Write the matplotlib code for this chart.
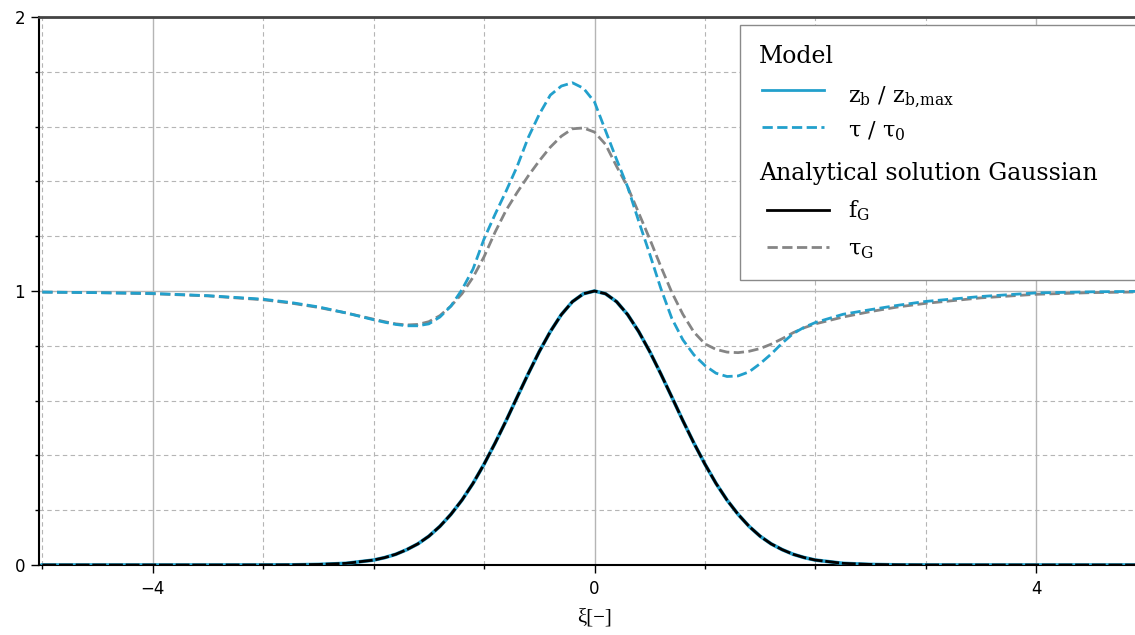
import matplotlib
matplotlib.use('Agg')
import matplotlib.pyplot as plt
from matplotlib.lines import Line2D
from matplotlib.patches import Rectangle
from matplotlib.ticker import MultipleLocator

# sample positions
xi = [-5, -4.5, -4, -3.5, -3, -2.75, -2.5, -2.25,
      -2.0, -1.9, -1.8, -1.7, -1.6, -1.5, -1.4, -1.3, -1.2, -1.1,
      -1.0, -0.9, -0.8, -0.7, -0.6, -0.5, -0.4, -0.3, -0.2, -0.1,
      0.0, 0.1, 0.2, 0.3, 0.4, 0.5, 0.6, 0.7, 0.8, 0.9,
      1.0, 1.1, 1.2, 1.3, 1.4, 1.5, 1.6, 1.7, 1.8, 1.9, 2.0,
      2.25, 2.5, 2.75, 3, 3.5, 4, 4.5, 5]

# model: bed level (solid) and shear stress (dashed)
zb_model = [0, 0, 0, 0, 0.0001, 0.0005, 0.002, 0.006,
            0.018, 0.027, 0.039, 0.056, 0.077, 0.105, 0.141, 0.185, 0.237, 0.298,
            0.368, 0.445, 0.527, 0.613, 0.698, 0.779, 0.852, 0.914, 0.961, 0.990,
            1.0, 0.990, 0.961, 0.914, 0.852, 0.779, 0.698, 0.613, 0.527, 0.445,
            0.368, 0.298, 0.237, 0.185, 0.141, 0.105, 0.077, 0.056, 0.039, 0.027, 0.018,
            0.006, 0.002, 0.0005, 0.0001, 0, 0, 0, 0]
tau_model = [0.996, 0.994, 0.991, 0.983, 0.970, 0.958, 0.942, 0.920,
             0.895, 0.886, 0.878, 0.873, 0.873, 0.880, 0.905, 0.945, 1.005, 1.08,
             1.19, 1.28, 1.365, 1.455, 1.56, 1.645, 1.715, 1.748, 1.76, 1.74,
             1.69, 1.585, 1.48, 1.38, 1.255, 1.135, 1.01, 0.90, 0.822, 0.767,
             0.728, 0.70, 0.688, 0.69, 0.705, 0.735, 0.77, 0.81, 0.845, 0.868, 0.885,
             0.915, 0.932, 0.948, 0.962, 0.98, 0.993, 0.997, 0.999]

# analytical gaussian solution
f_gauss = [0, 0, 0, 0, 0.0001, 0.0005, 0.002, 0.006,
           0.018, 0.027, 0.039, 0.056, 0.077, 0.105, 0.141, 0.185, 0.237, 0.298,
           0.368, 0.445, 0.527, 0.613, 0.698, 0.779, 0.852, 0.914, 0.961, 0.990,
           1.0, 0.990, 0.961, 0.914, 0.852, 0.779, 0.698, 0.613, 0.527, 0.445,
           0.368, 0.298, 0.237, 0.185, 0.141, 0.105, 0.077, 0.056, 0.039, 0.027, 0.018,
           0.006, 0.002, 0.0005, 0.0001, 0, 0, 0, 0]
tau_gauss = [0.996, 0.994, 0.990, 0.982, 0.968, 0.956, 0.940, 0.920,
             0.897, 0.888, 0.880, 0.876, 0.878, 0.888, 0.91, 0.945, 0.99, 1.05,
             1.125, 1.215, 1.295, 1.36, 1.42, 1.475, 1.525, 1.565, 1.592, 1.595,
             1.58, 1.535, 1.455, 1.38, 1.285, 1.19, 1.09, 0.995, 0.915, 0.85,
             0.807, 0.787, 0.777, 0.775, 0.78, 0.79, 0.806, 0.826, 0.848, 0.866, 0.88,
             0.905, 0.925, 0.942, 0.955, 0.975, 0.988, 0.994, 0.997]

CYAN = '#22a0cc'
GREY = '#858585'
W, H = 1135, 635

fig = plt.figure(figsize=(W / 100, H / 100), dpi=100)
# axes cropped on the right, like the original picture
ax = fig.add_axes([39 / W, (H - 565) / H, 1111 / W, 548 / H])

ax.plot(xi, zb_model, color=CYAN, lw=2.6, zorder=3)
ax.plot(xi, f_gauss, color='black', lw=2, ls=(0, (5, 1)), zorder=4)
ax.plot(xi, tau_gauss, color=GREY, lw=2, ls='--', zorder=3)
ax.plot(xi, tau_model, color=CYAN, lw=2, ls='--', zorder=3)

ax.set_xlim(-5.03, 5.03)
ax.set_ylim(0, 2)
ax.xaxis.set_major_locator(MultipleLocator(4))
ax.xaxis.set_minor_locator(MultipleLocator(1))
ax.yaxis.set_major_locator(MultipleLocator(1))
ax.yaxis.set_minor_locator(MultipleLocator(0.2))
ax.grid(which='major', color='#b5b5b5', lw=1, ls='-')
ax.grid(which='minor', color='#b5b5b5', lw=0.8, ls=(0, (4, 3)))
ax.tick_params(which='major', length=6, width=1, labelsize=12, pad=5)
ax.tick_params(which='minor', length=3, width=1)
ax.tick_params(axis='y', pad=4)
for s in ['left', 'bottom']:
    ax.spines[s].set_color('black')
    ax.spines[s].set_linewidth(1.5)
ax.spines['top'].set_color('#444444')
ax.spines['top'].set_linewidth(2)
ax.spines['right'].set_visible(False)
ax.set_xlabel('ξ[−]', family='Liberation Serif', fontsize=15, labelpad=7)


# hand-made legend in pixel coords (top-left origin)
def fx(px):
    return px / W


def fy(py):
    return 1 - py / H


fig.patches.append(Rectangle((fx(740), fy(280)), fx(420), (255) / H, transform=fig.transFigure,
                             facecolor='white', edgecolor='#8a8a8a', lw=1, zorder=5))
serif = 'DejaVu Serif'
fig.text(fx(759), fy(63), 'Model', family=serif, fontsize=17, zorder=6)
fig.text(fx(759), fy(180), 'Analytical solution Gaussian', family=serif, fontsize=17, zorder=6)
entries = [
    (90, 102, 762, CYAN, '-', r'$\mathregular{z_b\ /\ z_{b,\!max}}$'),
    (127, 137, 762, CYAN, '--', r'$\mathregular{\tau\ /\ \tau_0}$'),
    (210, 217, 767, 'black', '-', r'$\mathregular{f_G}$'),
    (247, 255, 767, GREY, '--', r'$\mathregular{\tau_G}$'),
]
for ly, ty, x0, col, ls, lab in entries:
    fig.lines.append(Line2D([fx(x0), fx(x0 + 62)], [fy(ly), fy(ly)], transform=fig.transFigure,
                            color=col, ls=ls, lw=2, zorder=6))
    fig.text(fx(848), fy(ty), lab, family=serif, fontsize=16, zorder=6)

fig.savefig('out.png', dpi=100)
